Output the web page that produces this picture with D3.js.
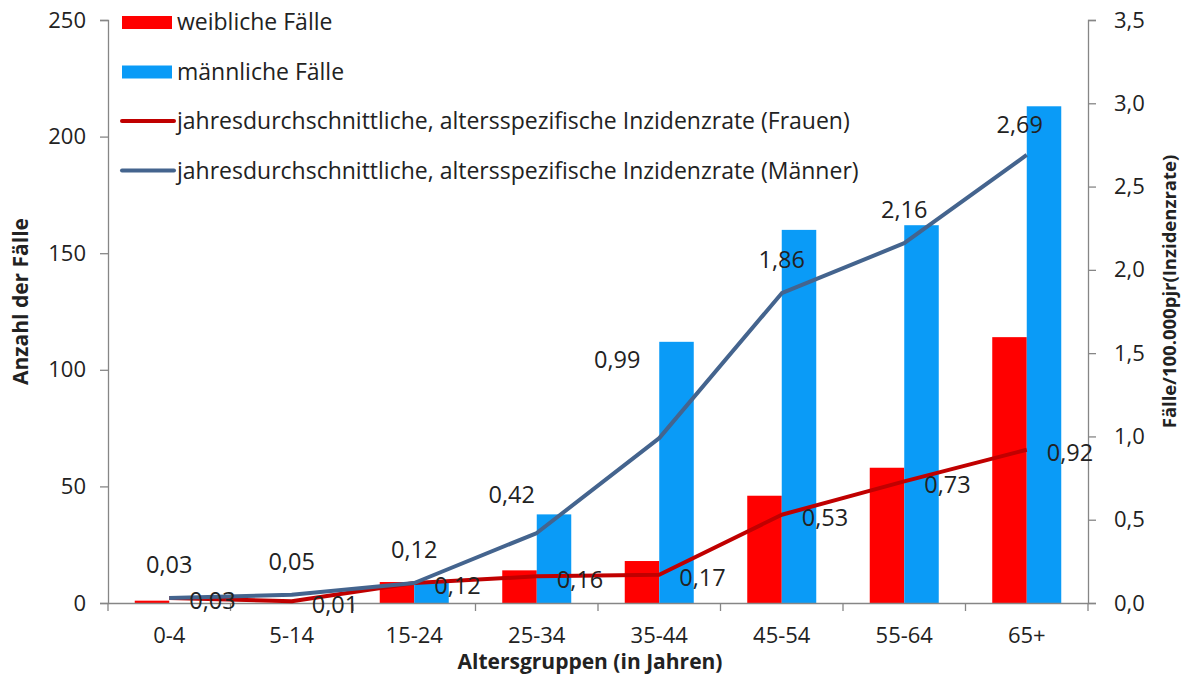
<!DOCTYPE html>
<html>
<head>
<meta charset="utf-8">
<script src="https://cdn.jsdelivr.net/npm/d3@7"></script>
<style>
  body { margin: 0; background: #fff; }
  text { font-family: "Open Sans", "Noto Sans", sans-serif; fill: #222; }
</style>
</head>
<body>
<div id="chart"></div>
<script>
// age groups and values
var gruppen = ["0-4", "5-14", "15-24", "25-34", "35-44", "45-54", "55-64", "65+"];
var weiblich = [1, 0, 9, 14, 18, 46, 58, 114];
var maennlich = [0, 0, 9, 38, 112, 160, 162, 213];
var rateFrauen = [0.03, 0.01, 0.12, 0.16, 0.17, 0.53, 0.73, 0.92];
var rateMaenner = [0.03, 0.05, 0.12, 0.42, 0.99, 1.86, 2.16, 2.69];
var linksTicks = [0, 50, 100, 150, 200, 250];
var rechtsTicks = [0, 0.5, 1, 1.5, 2, 2.5, 3, 3.5];

// manual nudges for the men's labels (like in the original)
var labelNudge = [[0, 0], [0, 0], [0, 0], [-25, -5], [-42, -45], [0, 0], [0, 0], [-7, 3]];

var W = 1194, H = 680;
var margin = {top: 20, right: 106, bottom: 77, left: 108},
    width = W - margin.left - margin.right,
    height = H - margin.top - margin.bottom;

var svg = d3.select("#chart").append("svg")
    .attr("width", W)
    .attr("height", H)
  .append("g")
    .attr("transform", "translate(" + margin.left + "," + margin.top + ")");

var x = d3.scaleBand().domain(gruppen).range([0, width]);
var y = d3.scaleLinear().domain([0, 250]).range([height, 0]);
var y2 = d3.scaleLinear().domain([0, 3.5]).range([height, 0]);

var barW = 34.5;
var fmt = function(v) { return d3.format(".2f")(v).replace(".", ","); };
var fmt1 = function(v) { return d3.format(".1f")(v).replace(".", ","); };

// bars
svg.selectAll(".bw").data(weiblich).enter().append("rect")
    .attr("x", function(d, i) { return x(gruppen[i]) + x.bandwidth() / 2 - barW; })
    .attr("y", function(d) { return y(d); })
    .attr("width", barW)
    .attr("height", function(d) { return height - y(d); })
    .attr("fill", "#FF0000");

svg.selectAll(".bm").data(maennlich).enter().append("rect")
    .attr("x", function(d, i) { return x(gruppen[i]) + x.bandwidth() / 2; })
    .attr("y", function(d) { return y(d); })
    .attr("width", barW)
    .attr("height", function(d) { return height - y(d); })
    .attr("fill", "#0A9BF7");

// axes
var axisColor = "#868686";
var yAxis = svg.append("g").call(d3.axisLeft(y).tickValues(linksTicks).tickSize(8).tickPadding(14));
var y2Axis = svg.append("g").attr("transform", "translate(" + width + ",0)")
    .call(d3.axisRight(y2).tickValues(rechtsTicks).tickSize(8).tickPadding(18).tickFormat(fmt1));
var xAxis = svg.append("g").attr("transform", "translate(0," + height + ")")
    .call(d3.axisBottom(x).tickSize(0).tickPadding(24));

[yAxis, y2Axis, xAxis].forEach(function(a) {
  a.selectAll("path, line").attr("stroke", axisColor).attr("stroke-width", 1.3);
  a.selectAll("text").style("font-size", "22px").style("font-family", "Open Sans, sans-serif").attr("fill", "#222");
});

// x ticks between categories
svg.selectAll(".xt").data(d3.range(gruppen.length + 1)).enter().append("line")
    .attr("x1", function(i) { return i * x.step(); })
    .attr("x2", function(i) { return i * x.step(); })
    .attr("y1", height)
    .attr("y2", height + 8)
    .attr("stroke", axisColor)
    .attr("stroke-width", 1.3);

// lines
var cx = function(i) { return x(gruppen[i]) + x.bandwidth() / 2; };
var lineF = d3.line().x(function(d, i) { return cx(i); }).y(function(d) { return y2(d); });

svg.append("path").datum(rateFrauen)
    .attr("d", lineF).attr("fill", "none")
    .attr("stroke", "#C00000").attr("stroke-width", 4).attr("stroke-linejoin", "round");

svg.append("path").datum(rateMaenner)
    .attr("d", lineF).attr("fill", "none")
    .attr("stroke", "#44648E").attr("stroke-width", 4).attr("stroke-linejoin", "round");

// data labels
svg.selectAll(".lf").data(rateFrauen).enter().append("text")
    .attr("x", function(d, i) { return cx(i) + 20; })
    .attr("y", function(d) { return y2(d) + 3; })
    .attr("dy", "0.35em")
    .style("font-size", "23.5px")
    .text(fmt);

svg.selectAll(".lm").data(rateMaenner).enter().append("text")
    .attr("x", function(d, i) { return cx(i) + labelNudge[i][0]; })
    .attr("y", function(d, i) { return y2(d) - 33 + labelNudge[i][1]; })
    .attr("dy", "0.35em")
    .attr("text-anchor", "middle")
    .style("font-size", "23.5px")
    .text(fmt);

// axis titles
svg.append("text")
    .attr("transform", "translate(-80," + (height / 2 - 10) + ") rotate(-90)")
    .attr("text-anchor", "middle")
    .style("font-size", "21px").style("font-weight", "bold")
    .text("Anzahl der Fälle");

svg.append("text")
    .attr("transform", "translate(" + (width + 88) + "," + (height / 2 - 20) + ") rotate(-90)")
    .attr("text-anchor", "middle")
    .style("font-size", "18.5px").style("font-weight", "bold")
    .text("Fälle/100.000pjr(Inzidenzrate)");

svg.append("text")
    .attr("x", width / 2 - 8)
    .attr("y", height + 66)
    .attr("text-anchor", "middle")
    .style("font-size", "21px").style("font-weight", "bold")
    .text("Altersgruppen (in Jahren)");

// legend
var legende = [
  {name: "weibliche Fälle", typ: "bar", farbe: "#FF0000"},
  {name: "männliche Fälle", typ: "bar", farbe: "#0A9BF7"},
  {name: "jahresdurchschnittliche, altersspezifische Inzidenzrate (Frauen)", typ: "line", farbe: "#C00000"},
  {name: "jahresdurchschnittliche, altersspezifische Inzidenzrate (Männer)", typ: "line", farbe: "#44648E"}
];
var lg = svg.append("g").attr("transform", "translate(14,2)");
legende.forEach(function(l, i) {
  var gy = i * 49.5;
  if (l.typ === "bar") {
    lg.append("rect").attr("x", 0).attr("y", gy - 6).attr("width", 50).attr("height", 13).attr("fill", l.farbe);
  } else {
    lg.append("line").attr("x1", 0).attr("x2", 52).attr("y1", gy).attr("y2", gy)
      .attr("stroke", l.farbe).attr("stroke-width", 4).attr("stroke-linecap", "round");
  }
  lg.append("text").attr("x", 55).attr("y", gy).attr("dy", "0.35em")
    .style("font-size", "23px").text(l.name);
});
</script>
</body>
</html>
